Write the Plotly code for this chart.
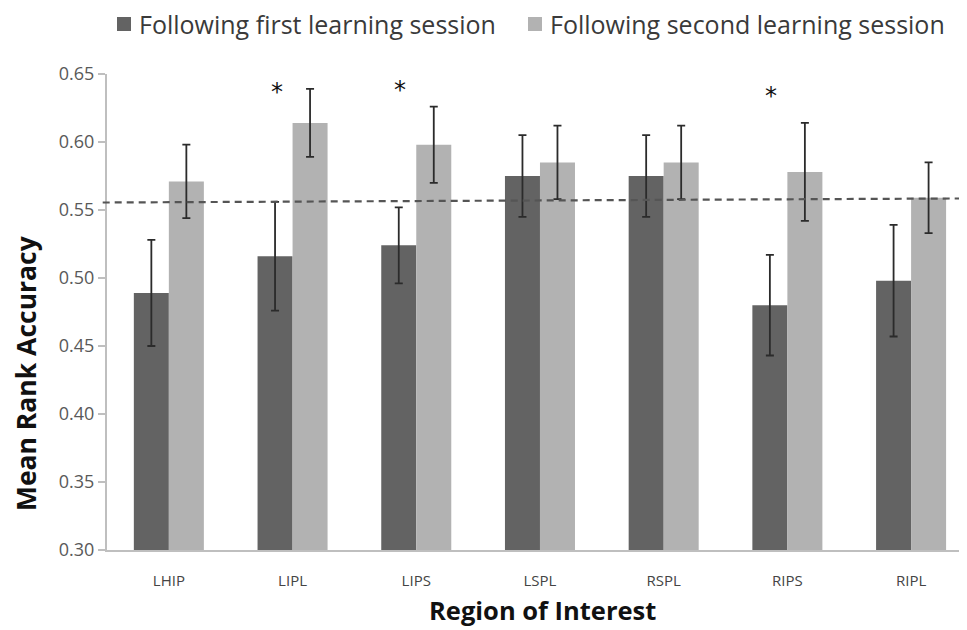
import plotly.graph_objects as go

regions = ["LHIP", "LIPL", "LIPS", "LSPL", "RSPL", "RIPS", "RIPL"]
first_session = [0.489, 0.516, 0.524, 0.575, 0.575, 0.480, 0.498]
first_err = [0.039, 0.040, 0.028, 0.030, 0.030, 0.037, 0.041]
second_session = [0.571, 0.614, 0.598, 0.585, 0.585, 0.578, 0.559]
second_err = [0.027, 0.025, 0.028, 0.027, 0.027, 0.036, 0.026]
chance_level = [0.5555, 0.5585]
star_regions = ["LIPL", "LIPS", "RIPS"]
star_y = [0.637, 0.638, 0.634]
y_ticks = [0.30, 0.35, 0.40, 0.45, 0.50, 0.55, 0.60, 0.65]
series_names = ["Following first learning session", "Following second learning session"]
series_colors = ["#636363", "#b2b2b2"]

FONT = "Open Sans, sans-serif"

fig = go.Figure()
fig.add_trace(go.Bar(
    x=regions, y=first_session, name=series_names[0],
    marker=dict(color=series_colors[0], line=dict(width=0)),
    error_y=dict(type="data", array=first_err, color="#2b2b2b", thickness=1.8, width=4),
))
fig.add_trace(go.Bar(
    x=regions, y=second_session, name=series_names[1],
    marker=dict(color=series_colors[1], line=dict(width=0)),
    error_y=dict(type="data", array=second_err, color="#2b2b2b", thickness=1.8, width=4),
))

# chance level dashed line
fig.add_shape(type="line", xref="paper", yref="y", x0=-0.005, x1=1.0,
              y0=chance_level[0], y1=chance_level[1],
              line=dict(color="#555555", width=2.2, dash="7px,5px"))

# significance stars
for r, sy in zip(star_regions, star_y):
    fig.add_annotation(x=r, y=sy, text="*", showarrow=False, xshift=-16,
                       font=dict(size=24, color="#111111", family="DejaVu Sans"))

# legend (drawn manually for exact placement)
legend_sq = [(0.0116, 0.0279), (0.4895, 0.5058)]
legend_tx = [0.0349, 0.5128]
for name, col, (a, b), tx in zip(series_names, series_colors, legend_sq, legend_tx):
    fig.add_shape(type="rect", xref="paper", yref="paper", x0=a, x1=b,
                  y0=1.0903, y1=1.1197, fillcolor=col, line=dict(width=0))
    fig.add_annotation(xref="paper", yref="paper", x=tx, y=1.105, xanchor="left",
                       yanchor="middle", text=name, showarrow=False,
                       font=dict(size=25, color="#3a3a3a", family=FONT))

# axis titles
fig.add_annotation(xref="paper", yref="paper", x=0.506, y=-0.127,
                   xanchor="center", yanchor="middle",
                   text="<b>Region of Interest</b>", showarrow=False,
                   font=dict(size=25.5, color="#111111", family=FONT))
fig.add_annotation(xref="paper", yref="paper", x=-0.094, y=0.372,
                   xanchor="center", yanchor="middle", textangle=-90,
                   text="<b>Mean Rank Accuracy</b>", showarrow=False,
                   font=dict(size=26.5, color="#111111", family=FONT))

fig.update_layout(
    width=959, height=622,
    margin=dict(l=99, r=0, t=66, b=80, autoexpand=False),
    paper_bgcolor="white", plot_bgcolor="white",
    barmode="group", bargap=0.434, bargroupgap=0,
    showlegend=False,
    xaxis=dict(type="category", range=[-0.5, 6.452], showline=True, linecolor="#bfbfbf",
               linewidth=2, ticks="", ticklabelstandoff=16,
               tickfont=dict(size=15, color="#444444", family=FONT), showgrid=False),
    yaxis=dict(range=[0.30, 0.65], tickvals=y_ticks, tickformat=".2f",
               showline=True, linecolor="#bfbfbf", linewidth=2,
               ticks="outside", ticklen=7, tickcolor="#bfbfbf", tickwidth=1.5,
               tickfont=dict(size=18, color="#595959", family=FONT),
               showgrid=False, zeroline=False),
)

fig.write_html("out.html")
